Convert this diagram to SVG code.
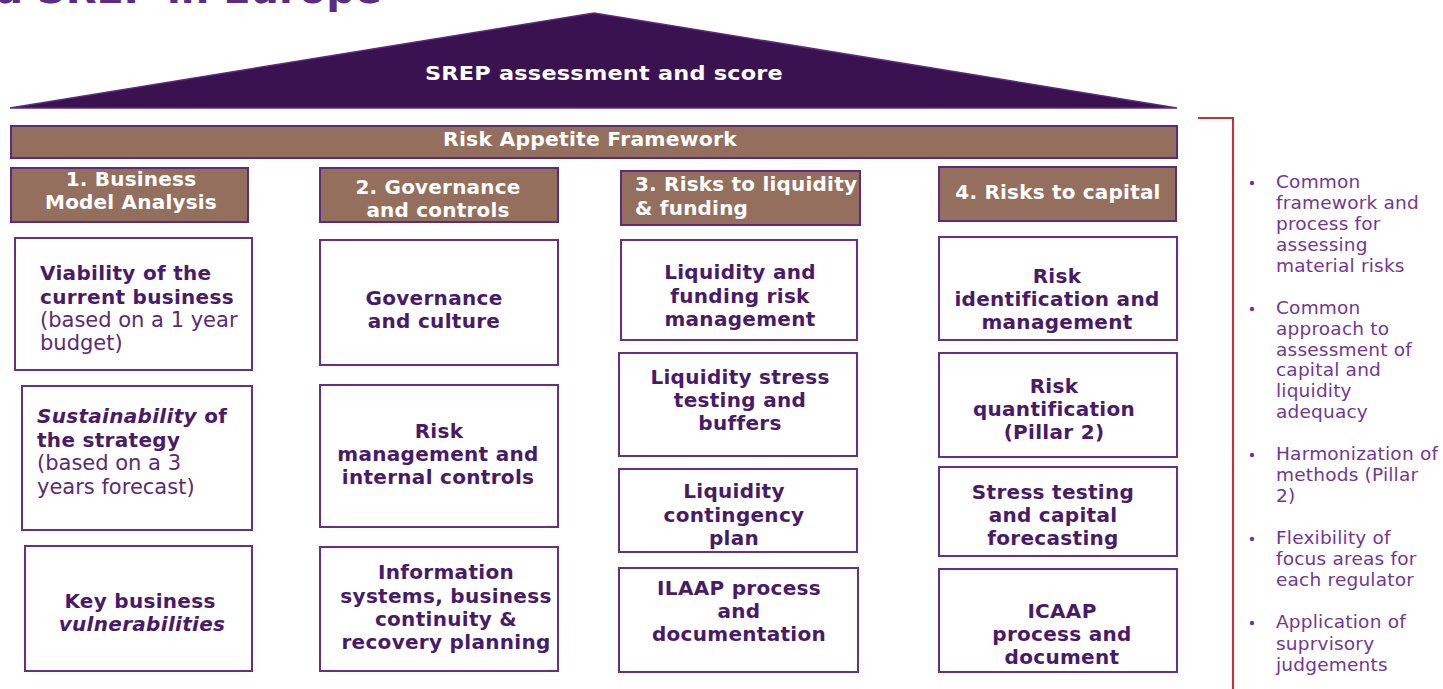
<svg xmlns="http://www.w3.org/2000/svg" width="1443" height="689" viewBox="0 0 1443 689">
  <style>
    .hdr { fill: #946F5E; stroke: #5E2A7E; stroke-width: 2; }
    .box { fill: #FFFFFF; stroke: #6A2D8A; stroke-width: 2; }
    .bt { font-family: "DejaVu Sans", Verdana, sans-serif; font-weight: bold; font-size: 20px; letter-spacing: 0.3px; fill: #4A1A6A; }
    .rt { font-family: "DejaVu Sans", Verdana, sans-serif; font-weight: normal; font-size: 21px; fill: #5A2A7A; }
    .wt { font-family: "DejaVu Sans", Verdana, sans-serif; font-weight: bold; font-size: 20px; letter-spacing: 0.2px; fill: #FFFFFF; }
    .ct { text-anchor: middle; }
    .bl { font-family: "DejaVu Sans", Verdana, sans-serif; font-size: 18.5px; letter-spacing: 0.2px; fill: #73359A; }
    .it { font-style: italic; }
  </style>

  <rect width="1443" height="689" fill="#FFFFFF"/>

  <!-- heading, mostly outside the top edge -->
  <text x="-4" y="3" font-family="DejaVu Sans, sans-serif" font-weight="bold" font-size="40" fill="#5B2C86">a SREP  in Europe</text>

  <!-- roof -->
  <g id="roof">
    <polygon points="10,108 594,13 1177,108" fill="#3B1250" stroke="#5E2A7E" stroke-width="1.5"/>
    <text class="wt" x="425" y="80" font-size="22.5" textLength="358" lengthAdjust="spacingAndGlyphs">SREP assessment and score</text>
  </g>

  <!-- risk appetite bar -->
  <g id="risk-appetite">
    <rect class="hdr" x="11" y="126" width="1166" height="32"/>
    <text class="wt" x="443" y="146" font-size="20.5" textLength="294" lengthAdjust="spacingAndGlyphs">Risk Appetite Framework</text>
  </g>

  <!-- column headers -->
  <g id="hdr-business">
    <rect class="hdr" x="11" y="168" width="237" height="54"/>
    <text class="wt ct" x="131" y="186">1. Business</text>
    <text class="wt ct" x="131" y="209">Model Analysis</text>
  </g>
  <g id="hdr-governance">
    <rect class="hdr" x="320" y="168" width="238" height="54"/>
    <text class="wt ct" x="438" y="194">2. Governance</text>
    <text class="wt ct" x="438" y="217">and controls</text>
  </g>
  <g id="hdr-liquidity">
    <rect class="hdr" x="621" y="171" width="239" height="54"/>
    <text class="wt" x="635" y="191">3. Risks to liquidity</text>
    <text class="wt" x="635" y="215">&amp; funding</text>
  </g>
  <g id="hdr-capital">
    <rect class="hdr" x="939" y="167" width="237" height="54"/>
    <text class="wt ct" x="1058" y="199">4. Risks to capital</text>
  </g>

  <!-- column 1 -->
  <g id="viability">
    <rect class="box" x="15" y="238" width="237" height="132"/>
    <text class="bt" x="40" y="280">Viability of the</text>
    <text class="bt" x="40" y="304">current business</text>
    <text class="rt" x="40" y="327">(based on a 1 year</text>
    <text class="rt" x="40" y="350">budget)</text>
  </g>
  <g id="sustainability">
    <rect class="box" x="22" y="386" width="230" height="144"/>
    <text class="bt" x="37" y="423"><tspan class="it">Sustainability</tspan> of</text>
    <text class="bt" x="37" y="447">the strategy</text>
    <text class="rt" x="37" y="470">(based on a 3</text>
    <text class="rt" x="37" y="494">years forecast)</text>
  </g>
  <g id="vulnerabilities">
    <rect class="box" x="25" y="546" width="227" height="125"/>
    <text class="bt ct" x="140" y="608">Key business</text>
    <text class="bt ct it" x="142" y="631">vulnerabilities</text>
  </g>

  <!-- column 2 -->
  <g id="governance-culture">
    <rect class="box" x="320" y="240" width="238" height="125"/>
    <text class="bt ct" x="434" y="305">Governance</text>
    <text class="bt ct" x="434" y="328">and culture</text>
  </g>
  <g id="risk-management">
    <rect class="box" x="320" y="385" width="238" height="142"/>
    <text class="bt ct" x="439" y="438">Risk</text>
    <text class="bt ct" x="438" y="461">management and</text>
    <text class="bt ct" x="438" y="484">internal controls</text>
  </g>
  <g id="information-systems">
    <rect class="box" x="320" y="547" width="238" height="124"/>
    <text class="bt ct" x="446" y="579">Information</text>
    <text class="bt ct" x="446" y="603">systems, business</text>
    <text class="bt ct" x="446" y="626">continuity &amp;</text>
    <text class="bt ct" x="446" y="649">recovery planning</text>
  </g>

  <!-- column 3 -->
  <g id="liquidity-risk-management">
    <rect class="box" x="621" y="240" width="236" height="100"/>
    <text class="bt ct" x="740" y="279">Liquidity and</text>
    <text class="bt ct" x="740" y="303">funding risk</text>
    <text class="bt ct" x="740" y="326">management</text>
  </g>
  <g id="liquidity-stress">
    <rect class="box" x="619" y="353" width="238" height="103"/>
    <text class="bt ct" x="740" y="384">Liquidity stress</text>
    <text class="bt ct" x="740" y="407">testing and</text>
    <text class="bt ct" x="740" y="430">buffers</text>
  </g>
  <g id="liquidity-contingency">
    <rect class="box" x="619" y="469" width="238" height="83"/>
    <text class="bt ct" x="734" y="498">Liquidity</text>
    <text class="bt ct" x="734" y="522">contingency</text>
    <text class="bt ct" x="734" y="545">plan</text>
  </g>
  <g id="ilaap">
    <rect class="box" x="619" y="568" width="239" height="104"/>
    <text class="bt ct" x="739" y="595">ILAAP process</text>
    <text class="bt ct" x="739" y="618">and</text>
    <text class="bt ct" x="739" y="641">documentation</text>
  </g>

  <!-- column 4 -->
  <g id="risk-identification">
    <rect class="box" x="939" y="237" width="238" height="103"/>
    <text class="bt ct" x="1057" y="283">Risk</text>
    <text class="bt ct" x="1057" y="306">identification and</text>
    <text class="bt ct" x="1057" y="329">management</text>
  </g>
  <g id="risk-quantification">
    <rect class="box" x="939" y="353" width="238" height="104"/>
    <text class="bt ct" x="1054" y="393">Risk</text>
    <text class="bt ct" x="1054" y="416">quantification</text>
    <text class="bt ct" x="1054" y="439">(Pillar 2)</text>
  </g>
  <g id="stress-testing">
    <rect class="box" x="939" y="467" width="238" height="89"/>
    <text class="bt ct" x="1053" y="499">Stress testing</text>
    <text class="bt ct" x="1053" y="522">and capital</text>
    <text class="bt ct" x="1053" y="545">forecasting</text>
  </g>
  <g id="icaap">
    <rect class="box" x="939" y="569" width="238" height="103"/>
    <text class="bt ct" x="1062" y="618">ICAAP</text>
    <text class="bt ct" x="1062" y="641">process and</text>
    <text class="bt ct" x="1062" y="664">document</text>
  </g>

  <!-- bracket spanning the pillars -->
  <g id="connectors">
    <polyline points="1198,118 1233,118 1233,689" fill="none" stroke="#D42A30" stroke-width="2"/>
  </g>

  <!-- key features list -->
  <g id="features" class="bl">
    <circle cx="1252" cy="183" r="2.2" fill="#73359A"/>
    <text x="1276" y="188">Common</text>
    <text x="1276" y="209">framework and</text>
    <text x="1276" y="230">process for</text>
    <text x="1276" y="251">assessing</text>
    <text x="1276" y="272">material risks</text>

    <circle cx="1252" cy="309" r="2.2" fill="#73359A"/>
    <text x="1276" y="314">Common</text>
    <text x="1276" y="335">approach to</text>
    <text x="1276" y="356">assessment of</text>
    <text x="1276" y="376">capital and</text>
    <text x="1276" y="397">liquidity</text>
    <text x="1276" y="418">adequacy</text>

    <circle cx="1252" cy="455" r="2.2" fill="#73359A"/>
    <text x="1276" y="460">Harmonization of</text>
    <text x="1276" y="481">methods (Pillar</text>
    <text x="1276" y="502">2)</text>

    <circle cx="1252" cy="539" r="2.2" fill="#73359A"/>
    <text x="1276" y="544">Flexibility of</text>
    <text x="1276" y="565">focus areas for</text>
    <text x="1276" y="586">each regulator</text>

    <circle cx="1252" cy="623" r="2.2" fill="#73359A"/>
    <text x="1276" y="628">Application of</text>
    <text x="1276" y="650">suprvisory</text>
    <text x="1276" y="671">judgements</text>
  </g>
</svg>
